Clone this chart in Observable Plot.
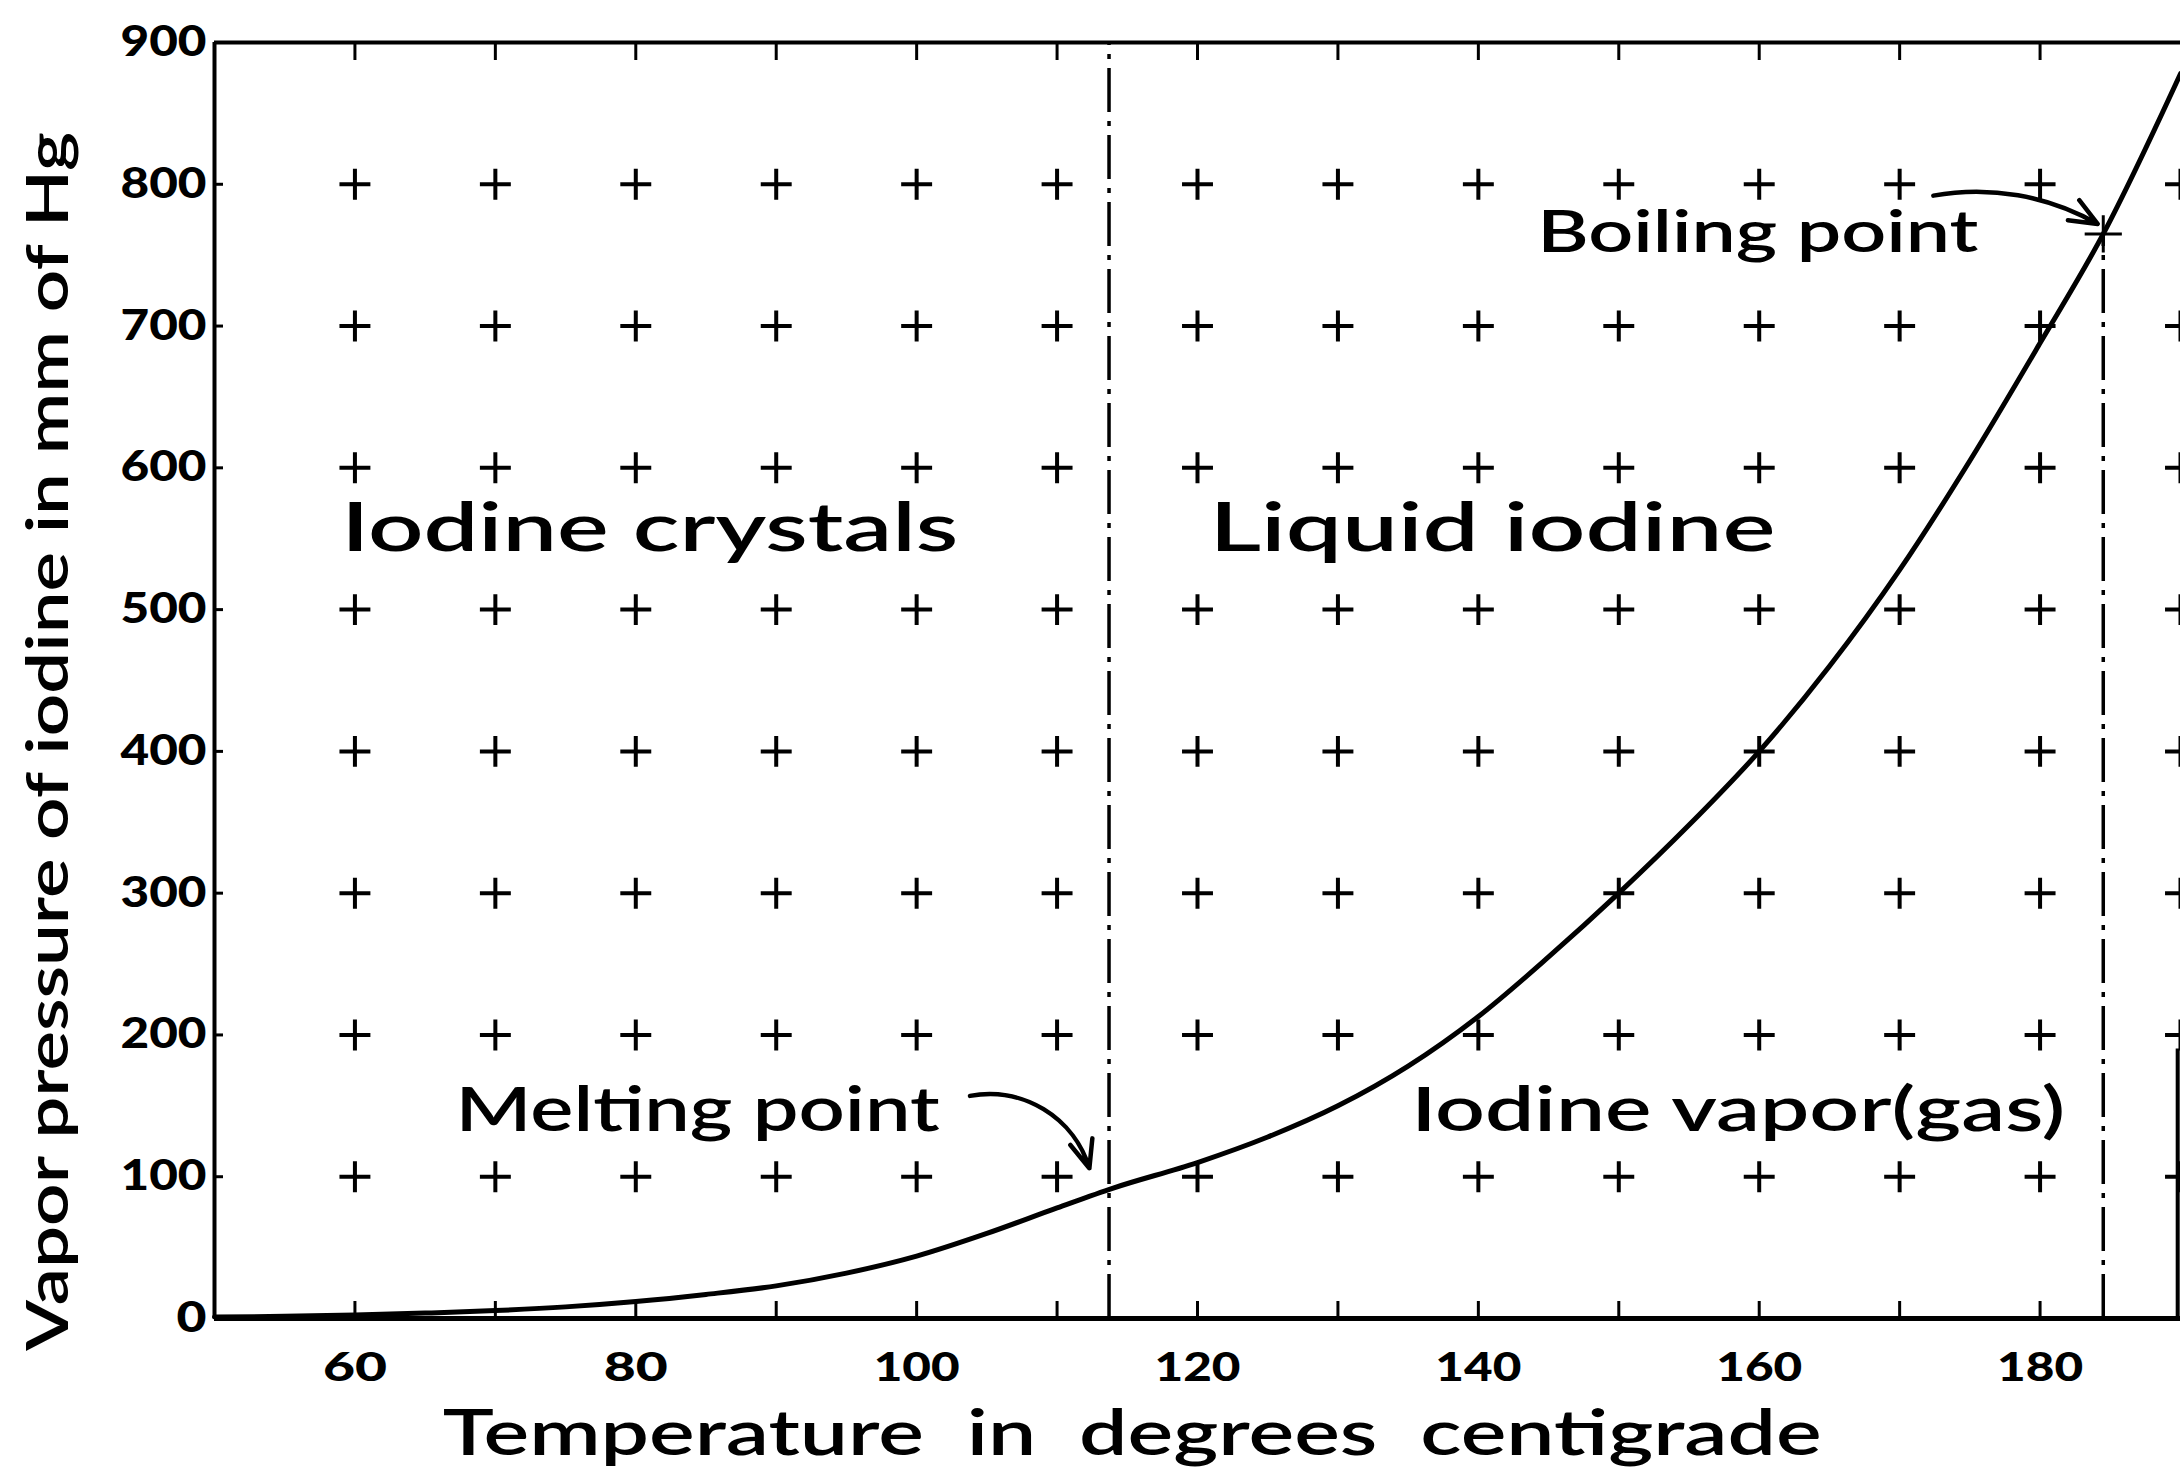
<!DOCTYPE html>
<html>
<head>
<meta charset="utf-8">
<script src="https://cdn.jsdelivr.net/npm/d3@7"></script>
<script src="https://cdn.jsdelivr.net/npm/@observablehq/plot@0.6"></script>
<style>
  html, body { margin: 0; padding: 0; background: #fff; }
  #chart svg { display: block; }
</style>
</head>
<body>
<div id="chart"></div>
<script>
// ---- Data ----
const temperature = [50, 55, 60, 65, 70, 75, 80, 85, 90, 95, 100, 105, 110, 114, 120, 125, 130, 135, 140, 145, 150, 155, 160, 165, 170, 175, 180, 184.5, 190];
const pressure    = [1, 1.5, 2.4, 3.8, 5.6, 8.2, 12, 17, 23, 32, 44, 60, 78, 92, 110, 128, 150, 178, 213, 255, 300, 348, 400, 460, 528, 605, 688, 765, 878];

const gridTemps = [60, 70, 80, 90, 100, 110, 120, 130, 140, 150, 160, 170, 180, 190];
const gridPressures = [100, 200, 300, 400, 500, 600, 700, 800];

const xTickValues = [60, 70, 80, 90, 100, 110, 120, 130, 140, 150, 160, 170, 180];
const xLabelValues = [60, 80, 100, 120, 140, 160, 180];
const yTickValues = [0, 100, 200, 300, 400, 500, 600, 700, 800, 900];

const phaseTemps = [113.7, 184.5];      // melting, boiling
const phaseTops = [900, 765];
const boilingPoint = [{t: 184.5, p: 765}];
const rightEdgeTemp = [189.8];
const rightEdgeTop = [190];

const labelTexts = ["Iodine crystals", "Liquid iodine", "Melting point", "Iodine vapor(gas)", "Boiling point"];
const labelTemps = [81.0, 141.0, 84.4, 158.5, 159.9];
const labelPressures = [557, 557, 146, 146, 765];
const labelSizes = [68, 68, 62, 62, 58];

const arrowFromT = [103.8, 172.4];
const arrowFromP = [157, 792];
const arrowToT = [112.3, 184.1];
const arrowToP = [106, 772];
const arrowBend = [42, 20];

const xTitle = "Temperature  in  degrees  centigrade";
const yTitle = "Vapor pressure of iodine in mm of Hg";

// ---- Derived tables ----
const curve = temperature.map((t, i) => ({t, p: pressure[i]}));
const grid = gridTemps.flatMap(t => gridPressures.map(p => ({t, p})));
const phases = phaseTemps.map((t, i) => ({t, top: phaseTops[i]}));
const labels = labelTexts.map((text, i) => ({text, t: labelTemps[i], p: labelPressures[i], size: labelSizes[i]}));
const arrows = arrowFromT.map((t, i) => ({x1: t, y1: arrowFromP[i], x2: arrowToT[i], y2: arrowToP[i], bend: arrowBend[i]}));
const rightEdge = rightEdgeTemp.map((t, i) => ({t, top: rightEdgeTop[i]}));

const font = "Lato, 'Noto Sans', sans-serif";

const chart = Plot.plot({
  width: 2180,
  height: 1473,
  marginLeft: 214,
  marginRight: 0,
  marginTop: 42,
  marginBottom: 155,
  x: {domain: [50, 190]},
  y: {domain: [0, 900]},
  style: {background: "#fff", color: "#000", fontFamily: font},
  marks: [
    // grid of plus marks
    Plot.dot(grid, {x: "t", y: "p", symbol: "plus", r: 10, stroke: "#000", strokeWidth: 4}),
    // phase boundary dash-dot lines
    ...phases.map(d => Plot.ruleX([d], {x: "t", y1: 0, y2: "top", stroke: "#000", strokeWidth: 3.5, strokeDasharray: "44,9,5,9"})),
    Plot.ruleX(rightEdge, {x: "t", y1: 0, y2: "top", stroke: "#000", strokeWidth: 4}),
    // frame
    Plot.ruleY([0], {stroke: "#000", strokeWidth: 5}),
    Plot.ruleY([900], {stroke: "#000", strokeWidth: 4}),
    Plot.ruleX([50], {y1: 0, y2: 900, stroke: "#000", strokeWidth: 4}),
    // tick marks
    Plot.axisX(xTickValues, {anchor: "bottom", tickSize: -17, tickFormat: () => "", strokeWidth: 3, label: null}),
    Plot.axisX(xTickValues, {anchor: "top", tickSize: -17, tickFormat: () => "", strokeWidth: 3, label: null}),
    Plot.axisX(xLabelValues, {anchor: "bottom", tickSize: 0, tickPadding: 34, fontSize: 40, fontWeight: 900, label: null}),
    Plot.axisY(yTickValues, {anchor: "left", tickSize: -9, tickFormat: () => "", strokeWidth: 3, label: null}),
    Plot.axisY(yTickValues, {anchor: "left", tickSize: 0, tickPadding: 8, fontSize: 42, fontWeight: 900, label: null}),
    // vapor pressure curve
    Plot.line(curve, {x: "t", y: "p", curve: "monotone-x", stroke: "#000", strokeWidth: 5}),
    Plot.dot(boilingPoint, {x: "t", y: "p", symbol: "plus", r: 12, stroke: "#000", strokeWidth: 3}),
    // arrows
    ...arrows.map(a => Plot.arrow([a], {x1: "x1", y1: "y1", x2: "x2", y2: "y2", bend: a.bend, headLength: 10, headAngle: 45, stroke: "#000", strokeWidth: 4.5})),
    // region & point labels
    ...labels.map(l => Plot.text([l], {x: "t", y: "p", text: "text", fontSize: l.size, fontWeight: 600, fill: "#000", textAnchor: "middle", lineAnchor: "middle"})),
    // axis titles
    Plot.text([xTitle], {x: [115.35], frameAnchor: "bottom", dy: 136, fontSize: 64, fontWeight: 600, fill: "#000", textAnchor: "middle", lineAnchor: "bottom"}),
    Plot.text([yTitle], {y: [407], frameAnchor: "left", dx: -165, rotate: -90, fontSize: 58, fontWeight: 600, fill: "#000", textAnchor: "middle", lineAnchor: "middle"})
  ]
});

// match the hand-lettered text widths of the original
const widths = new Map([
  ["Iodine crystals", 617], ["Liquid iodine", 566], ["Melting point", 484],
  ["Iodine vapor(gas)", 654], ["Boiling point", 441],
  [xTitle, 1379], [yTitle, 1219]
]);
const numberWidth = s => s.length === 1 ? 30 : s.length === 2 ? 64 : 86;
d3.select(chart).selectAll("text").each(function () {
  const s = this.textContent;
  let w = widths.get(s);
  if (!w && /^\d+$/.test(s)) w = numberWidth(s);
  if (w) {
    this.setAttribute("textLength", w);
    this.setAttribute("lengthAdjust", "spacingAndGlyphs");
  }
});

document.getElementById("chart").appendChild(chart);
</script>
</body>
</html>
